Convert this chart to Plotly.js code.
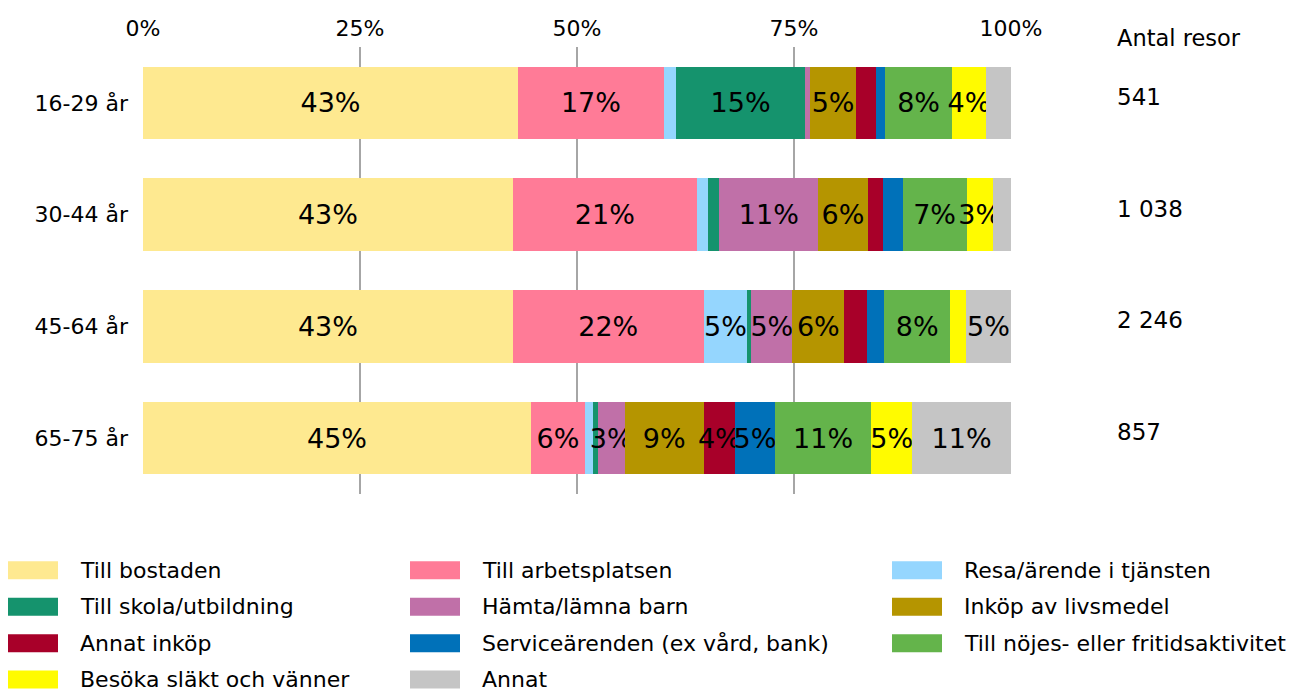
<!DOCTYPE html>
<html>
<head>
<meta charset="utf-8">
<script src="https://cdn.plot.ly/plotly-3.0.1.min.js"></script>
<style>html,body{margin:0;padding:0;background:#fff;}#chart{width:1298px;height:689px;}</style>
</head>
<body>
<div id="chart"></div>
<script>
// ---- data ----
const categories = ['16-29 år', '30-44 år', '45-64 år', '65-75 år'];
const tripCounts = ['541', '1 038', '2 246', '857'];
const countHeader = 'Antal resor';
const xTickVals = [0, 25, 50, 75, 100];
const xTickText = ['0%', '25%', '50%', '75%', '100%'];

const seriesNames = [
  'Till bostaden', 'Till arbetsplatsen', 'Resa/ärende i tjänsten',
  'Till skola/utbildning', 'Hämta/lämna barn', 'Inköp av livsmedel',
  'Annat inköp', 'Serviceärenden (ex vård, bank)', 'Till nöjes- eller fritidsaktivitet',
  'Besöka släkt och vänner', 'Annat'
];
const seriesColors = [
  '#FEE990', '#FF7B97', '#95D6FE',
  '#15936D', '#C070A8', '#B59500',
  '#A80029', '#0071B9', '#64B44B',
  '#FFFB00', '#C5C5C5'
];
// values per series, one per category (percent)
const tillBostaden      = [43.2, 42.6, 42.6, 44.7];
const tillArbetsplatsen = [16.8, 21.2, 22.0, 6.2];
const resaTjansten      = [1.4, 1.3, 5.0, 1.0];
const tillSkola         = [14.9, 1.3, 0.5, 0.5];
const hamtaBarn         = [0.6, 11.4, 4.7, 3.1];
const inkopLivsmedel    = [5.2, 5.7, 6.0, 9.1];
const annatInkop        = [2.4, 1.7, 2.6, 3.6];
const servicearenden    = [1.0, 2.3, 2.0, 4.6];
const nojesFritid       = [7.7, 7.4, 7.6, 11.1];
const besokaSlakt       = [3.9, 3.0, 1.8, 4.7];
const annat             = [2.9, 2.1, 5.2, 11.4];

const seriesValues = [tillBostaden, tillArbetsplatsen, resaTjansten, tillSkola, hamtaBarn,
  inkopLivsmedel, annatInkop, servicearenden, nojesFritid, besokaSlakt, annat];

// ---- layout geometry ----
const W = 1298, H = 689;
const M = {l: 143, r: 287, t: 46.5, b: 194.5};
const PW = W - M.l - M.r, PH = H - M.t - M.b;
const px2x = px => (px - M.l) / PW;
const py2y = py => (H - M.b - py) / PH;
const FONT = '"DejaVu Sans", "Noto Sans", sans-serif';

const traces = seriesNames.map((name, i) => ({
  type: 'bar',
  orientation: 'h',
  name: name,
  y: categories,
  x: seriesValues[i],
  marker: {color: seriesColors[i], line: {width: 0}},
  text: seriesValues[i].map(v => v >= 3 ? Math.round(v) + '%' : ''),
  textposition: 'inside',
  insidetextanchor: 'middle',
  textangle: 0,
  constraintext: 'none',
  textfont: {family: FONT, size: 27, color: '#000'},
  hoverinfo: 'skip',
  showlegend: false
}));

const annotations = [];
const shapes = [];
// trip counts
categories.forEach((c, i) => {
  annotations.push({xref: 'paper', yref: 'y', x: px2x(1115), y: c, text: tripCounts[i],
    xanchor: 'left', yanchor: 'middle', yshift: 6, showarrow: false,
    font: {family: FONT, size: 23, color: '#000'}});
});
annotations.push({xref: 'paper', yref: 'paper', x: px2x(1115), y: py2y(37.5), text: countHeader,
  xanchor: 'left', yanchor: 'middle', showarrow: false,
  font: {family: FONT, size: 22.5, color: '#000'}});

// legend: 3 columns, row-major
const colSwatchX = [8, 410, 892];
seriesNames.forEach((name, i) => {
  const col = i % 3, row = Math.floor(i / 3);
  const cy = 571 + row * 36.5;
  const sx = colSwatchX[col];
  shapes.push({type: 'rect', xref: 'paper', yref: 'paper',
    x0: px2x(sx), x1: px2x(sx + 50), y0: py2y(cy - 9), y1: py2y(cy + 9),
    fillcolor: seriesColors[i], line: {width: 0}, layer: 'above'});
  annotations.push({xref: 'paper', yref: 'paper', x: px2x(sx + 70), y: py2y(cy),
    text: name, xanchor: 'left', yanchor: 'middle', showarrow: false,
    font: {family: FONT, size: 22, color: '#000'}});
});

const layout = {
  width: W, height: H,
  margin: M,
  paper_bgcolor: '#fff', plot_bgcolor: '#fff',
  barmode: 'stack',
  bargap: 0.35,
  showlegend: false,
  font: {family: FONT, size: 23, color: '#000'},
  xaxis: {
    side: 'top', range: [0, 100], tickvals: xTickVals, ticktext: xTickText,
    showgrid: true, gridcolor: '#A6A6A6', gridwidth: 1.2, zeroline: false, showline: false,
    ticks: '', ticklabelstandoff: 6, tickfont: {family: FONT, size: 22, color: '#000'},
    fixedrange: true
  },
  yaxis: {
    autorange: 'reversed', showgrid: false, zeroline: false, showline: false,
    ticks: '', ticklabelstandoff: 14, tickfont: {family: FONT, size: 22, color: '#000'},
    fixedrange: true
  },
  annotations: annotations,
  shapes: shapes
};

Plotly.newPlot('chart', traces, layout, {displayModeBar: false, staticPlot: true});
</script>
</body>
</html>
